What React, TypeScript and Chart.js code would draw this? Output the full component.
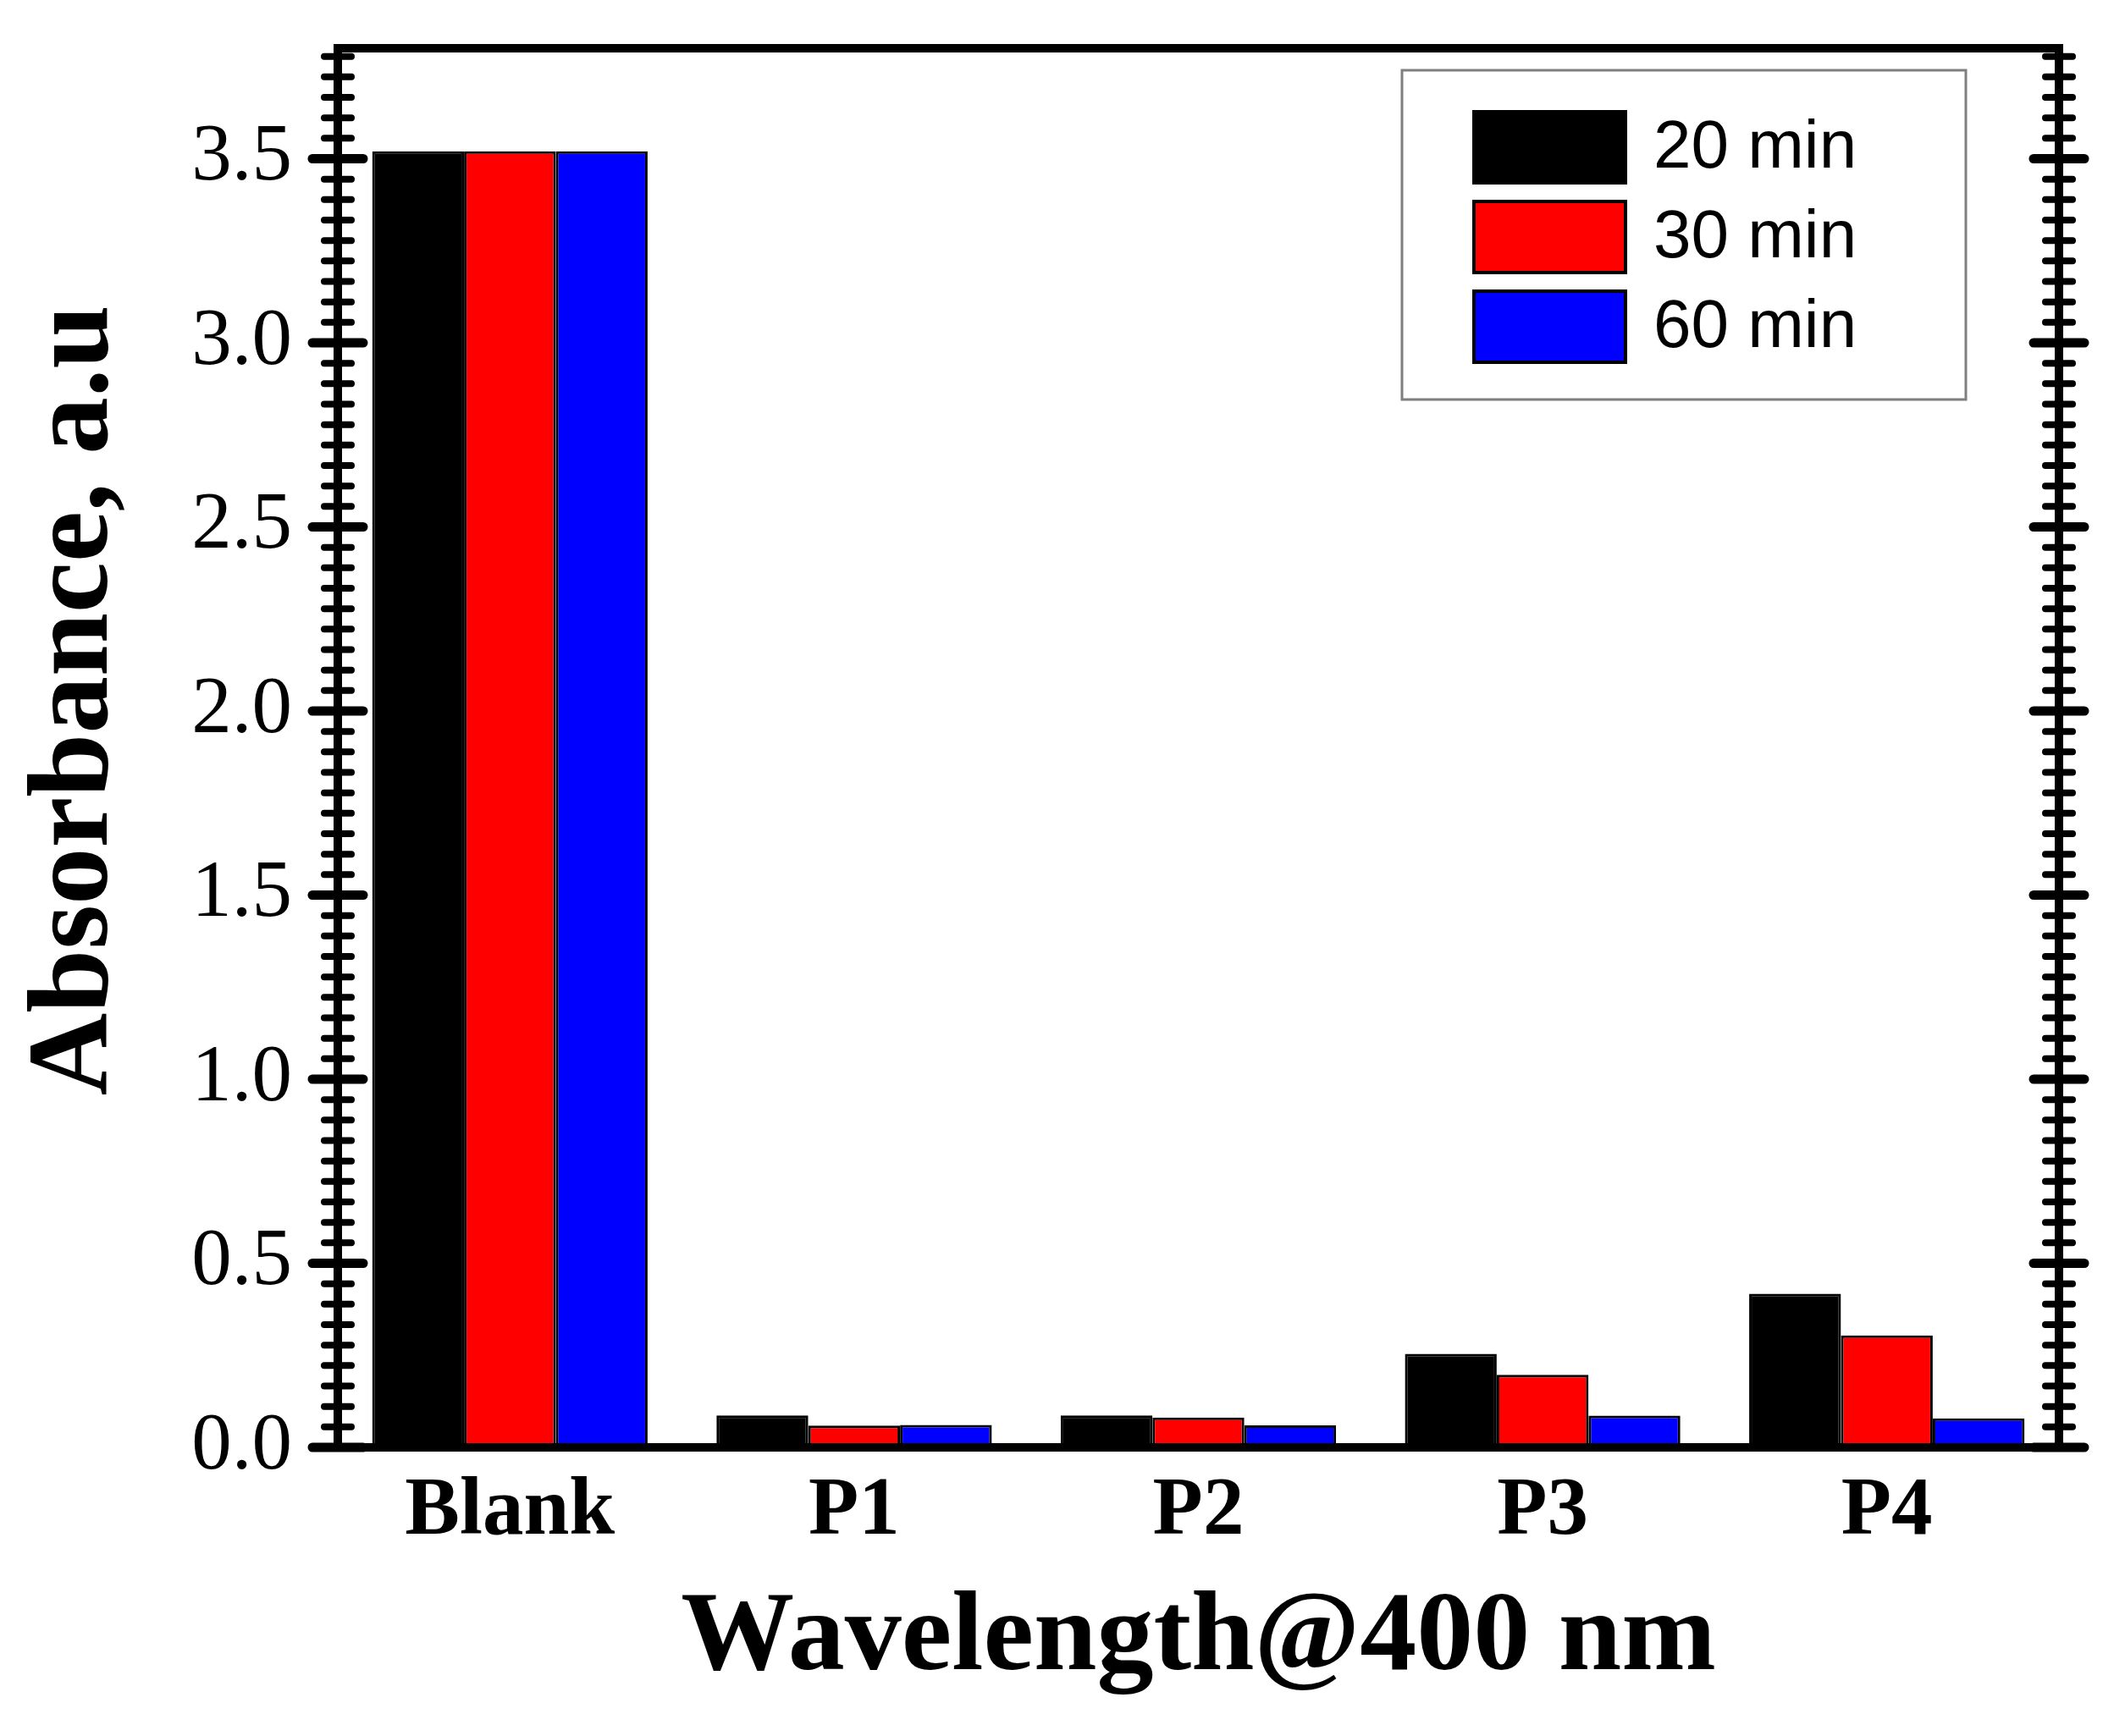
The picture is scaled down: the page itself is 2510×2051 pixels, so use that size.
import { useEffect, useRef } from 'react';
import { Chart, registerables } from 'chart.js';
import type { ChartConfiguration, Plugin } from 'chart.js';

Chart.register(...registerables);

// values
const categories = ['Blank', 'P1', 'P2', 'P3', 'P4'];
const seriesNames = ['20 min', '30 min', '60 min'];
const min20 = [3.52, 0.087, 0.087, 0.254, 0.417];
const min30 = [3.52, 0.059, 0.081, 0.197, 0.304];
const min60 = [3.52, 0.061, 0.06, 0.086, 0.079];
const seriesColors = ['#000000', '#ff0000', '#0000ff'];
const yTicks = [0, 0.5, 1, 1.5, 2, 2.5, 3, 3.5];

const serif = '"Liberation Serif", "Times New Roman", serif';
const sans = '"Liberation Sans", Arial, sans-serif';

// Origin-style frame: ticks crossing both vertical axes, 8 minor ticks per major
const framePlugin: Plugin<'bar'> = {
    id: 'frame',
    afterDatasetsDraw(chart) {
        const { ctx, chartArea } = chart;
        const { left, right, top, bottom } = chartArea;
        const y = chart.scales.y;
        const step = 0.5 / 9;
        ctx.save();
        ctx.strokeStyle = '#000';
        ctx.lineCap = 'round';
        for (let i = 0; i * step <= y.max + 1e-9; i++) {
            const major = i % 9 === 0;
            const py = y.getPixelForValue(i * step);
            const half = major ? 30 : 16;
            ctx.lineWidth = major ? 11 : 8;
            for (const x of [left, right]) {
                ctx.beginPath();
                ctx.moveTo(x - half, py);
                ctx.lineTo(x + half, py);
                ctx.stroke();
            }
        }
        ctx.lineCap = 'butt';
        ctx.lineJoin = 'miter';
        ctx.lineWidth = 10;
        ctx.strokeRect(left, top, right - left, bottom - top);
        ctx.restore();
    },
};

// legend in a grey box inside the plot
const boxLegendPlugin: Plugin<'bar'> = {
    id: 'boxLegend',
    afterDraw(chart) {
        const { ctx, chartArea } = chart;
        const boxW = 666;
        const boxH = 389;
        const boxLeft = chartArea.right - 110 - boxW;
        const boxTop = chartArea.top + 26;
        ctx.save();
        ctx.strokeStyle = '#7f7f7f';
        ctx.lineWidth = 3;
        ctx.strokeRect(boxLeft, boxTop, boxW, boxH);
        ctx.font = `80px ${sans}`;
        ctx.textBaseline = 'middle';
        ctx.textAlign = 'left';
        chart.data.datasets.forEach((ds, i) => {
            const sy = boxTop + 49 + i * 106;
            ctx.fillStyle = ds.backgroundColor as string;
            ctx.fillRect(boxLeft + 85, sy, 179, 84);
            ctx.lineWidth = 4;
            ctx.strokeStyle = '#000';
            ctx.strokeRect(boxLeft + 85, sy, 179, 84);
            ctx.fillStyle = '#000';
            ctx.fillText(ds.label as string, boxLeft + 297, sy + 44);
        });
        ctx.restore();
    },
};

const whiteBg: Plugin<'bar'> = {
    id: 'whiteBg',
    beforeDraw(chart) {
        const { ctx, width, height } = chart;
        ctx.save();
        ctx.fillStyle = '#fff';
        ctx.fillRect(0, 0, width, height);
        ctx.restore();
    },
};

const App = () => {
    const chartRef = useRef<HTMLCanvasElement | null>(null);

    useEffect(() => {
        const ctx = chartRef.current?.getContext('2d');
        if (!ctx) return;

        const values = [min20, min30, min60];
        const config: ChartConfiguration<'bar'> = {
            type: 'bar',
            data: {
                labels: categories,
                datasets: seriesNames.map((name, i) => ({
                    label: name,
                    data: values[i],
                    backgroundColor: seriesColors[i],
                    borderColor: '#000',
                    borderWidth: 3,
                    categoryPercentage: 0.8,
                    barPercentage: 1.0,
                })),
            },
            options: {
                animation: false,
                responsive: true,
                maintainAspectRatio: false,
                devicePixelRatio: 1,
                layout: { padding: { left: 0, right: 78, top: 57, bottom: 0 } },
                plugins: {
                    legend: { display: false },
                    tooltip: { enabled: false },
                },
                scales: {
                    x: {
                        grid: { display: false, drawTicks: false, tickLength: 0 },
                        border: { display: false },
                        ticks: {
                            color: '#000',
                            font: { family: serif, size: 97, weight: 'bold', lineHeight: 1.2 },
                            padding: 19,
                            maxRotation: 0,
                            autoSkip: false,
                        },
                        title: {
                            display: true,
                            text: 'Wavelength@400 nm',
                            color: '#000',
                            font: { family: serif, size: 134, weight: 'bold', lineHeight: 1.2 },
                            padding: { top: 0, bottom: 33 },
                        },
                        afterFit: (scale) => {
                            scale.height = 341;
                            scale.paddingLeft = 0;
                            scale.paddingRight = 0;
                        },
                    },
                    y: {
                        min: 0,
                        max: 3.8,
                        grid: { display: false, drawTicks: false, tickLength: 0 },
                        border: { display: false },
                        afterBuildTicks: (scale) => {
                            scale.ticks = yTicks.map((v) => ({ value: v }));
                        },
                        ticks: {
                            color: '#000',
                            font: { family: serif, size: 95 },
                            padding: 54,
                            callback: (v) => Number(v).toFixed(1),
                        },
                        title: {
                            display: true,
                            // leading spaces nudge the centred title upward like the original
                            text: '   \u200AAbsorbance, a.u',
                            color: '#000',
                            font: { family: serif, size: 135, weight: 'bold', lineHeight: 1.2 },
                            padding: { top: 10, bottom: 0 },
                        },
                        afterFit: (scale) => {
                            scale.width = 399;
                            scale.paddingTop = 0;
                            scale.paddingBottom = 0;
                        },
                    },
                },
            },
            plugins: [whiteBg, framePlugin, boxLegendPlugin],
        };

        const chartInstance = new Chart(ctx, config);
        return () => {
            chartInstance.destroy();
        };
    }, []);

    return (
        <div style={{ position: 'absolute', left: 0, top: 0, width: 2510, height: 2051, background: '#fff' }}>
            <canvas ref={chartRef}></canvas>
        </div>
    );
};

export default App;
